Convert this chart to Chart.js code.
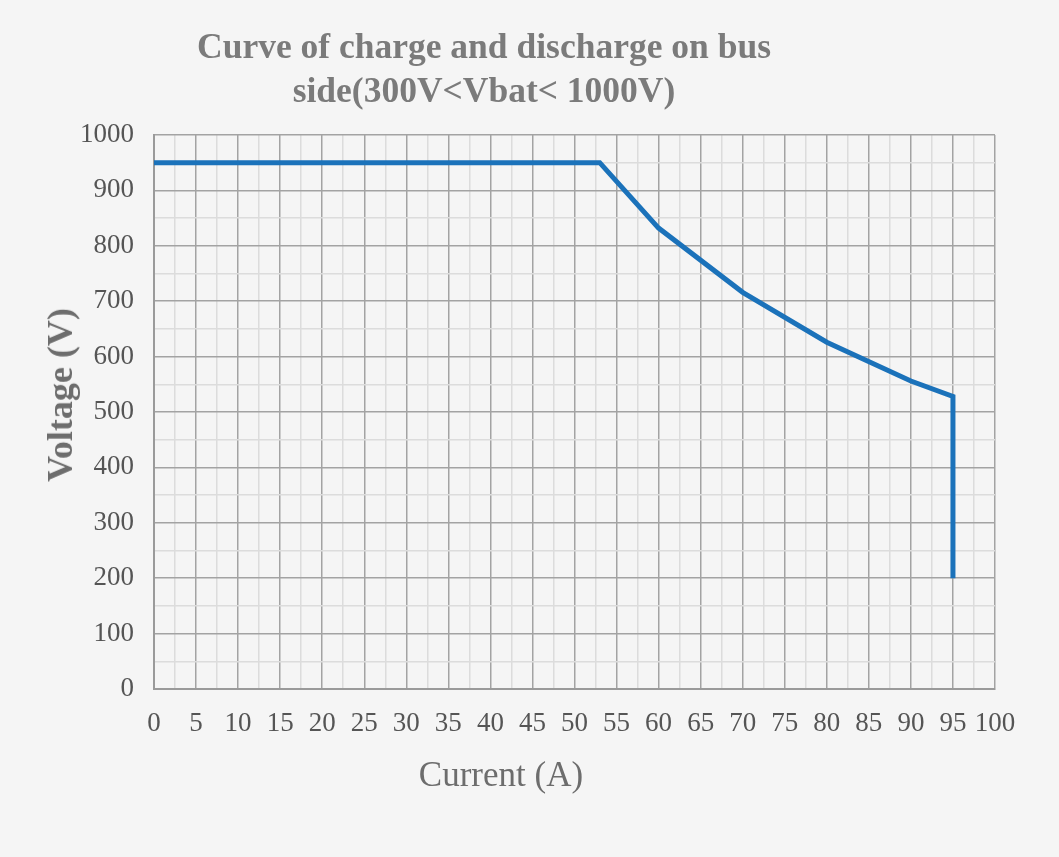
<!DOCTYPE html>
<html>
<head>
<meta charset="utf-8">
<script src="https://cdn.jsdelivr.net/npm/chart.js@4"></script>
<style>
  html, body { margin: 0; padding: 0; background: #f5f5f5; }
  #wrap { position: relative; width: 1059px; height: 857px; }
  .title { position: absolute; left: 134px; width: 700px; text-align: center; top: 24px;
    font: bold 35.5px "Liberation Serif", "Times New Roman", serif; color: #7b7b7b; line-height: 44px; }
  .xtitle { position: absolute; left: 351px; width: 300px; text-align: center; top: 755px;
    font: 35px "Liberation Serif", "Times New Roman", serif; color: #6d6d6d; }
  .ytitle { position: absolute; left: 60px; top: 395px; transform: translate(-50%, -50%) rotate(-90deg);
    white-space: nowrap; font: bold 36px "Liberation Serif", "Times New Roman", serif; color: #6d6d6d; }
</style>
</head>
<body>
<div id="wrap">
  <canvas id="curveChart" width="1059" height="857"></canvas>
  <div class="title">Curve of charge and discharge on bus<br>side(300V&lt;Vbat&lt; 1000V)</div>
  <div class="xtitle">Current (A)</div>
  <div class="ytitle">Voltage (V)</div>
</div>
<script>
// Bus-side charge/discharge curve
const currentA = [0, 53, 60, 70, 80, 90, 95, 95];
const voltageV = [950, 950, 832, 716, 626, 556, 528, 200];
const xTicks = [0, 5, 10, 15, 20, 25, 30, 35, 40, 45, 50, 55, 60, 65, 70, 75, 80, 85, 90, 95, 100];
const yTicks = [0, 100, 200, 300, 400, 500, 600, 700, 800, 900, 1000];

const tickFont = { family: '"Liberation Serif", "Times New Roman", serif', size: 27 };
const majorGrid = '#a3a3a3';
const minorGrid = '#dcdcdc';

const points = currentA.map((x, i) => ({ x, y: voltageV[i] }));

new Chart(document.getElementById('curveChart'), {
  type: 'scatter',
  data: {
    datasets: [{
      data: points,
      showLine: true,
      borderColor: '#1b72ba',
      borderWidth: 5,
      pointRadius: 0,
      tension: 0,
    }],
  },
  options: {
    responsive: false,
    animation: false,
    layout: { padding: { left: 0, right: 64, top: 135, bottom: 113 } },
    plugins: { legend: { display: false }, tooltip: { enabled: false } },
    scales: {
      x: {
        type: 'linear', min: 0, max: 100,
        afterFit: s => { s.height = 55; },
        afterBuildTicks: s => {
          const t = [];
          for (let v = 0; v <= 100; v += 2.5) t.push({ value: v });
          s.ticks = t;
        },
        ticks: {
          autoSkip: false, maxRotation: 0, padding: 19, color: '#555',
          font: tickFont,
          callback: v => xTicks.includes(v) ? String(v) : '',
        },
        grid: {
          drawTicks: false,
          color: ctx => (ctx.tick && xTicks.includes(ctx.tick.value)) ? majorGrid : minorGrid,
          lineWidth: 1.5,
        },
        border: { color: '#9a9a9a', width: 2 },
      },
      y: {
        type: 'linear', min: 0, max: 1000,
        afterFit: s => { s.width = 154; },
        afterBuildTicks: s => {
          const t = [];
          for (let v = 0; v <= 1000; v += 50) t.push({ value: v });
          s.ticks = t;
        },
        ticks: {
          autoSkip: false, padding: 20, color: '#555',
          font: tickFont,
          callback: v => yTicks.includes(v) ? String(v) : '',
        },
        grid: {
          drawTicks: false,
          color: ctx => (ctx.tick && yTicks.includes(ctx.tick.value)) ? majorGrid : minorGrid,
          lineWidth: 1.5,
        },
        border: { color: '#9a9a9a', width: 2 },
      },
    },
  },
});
</script>
</body>
</html>
